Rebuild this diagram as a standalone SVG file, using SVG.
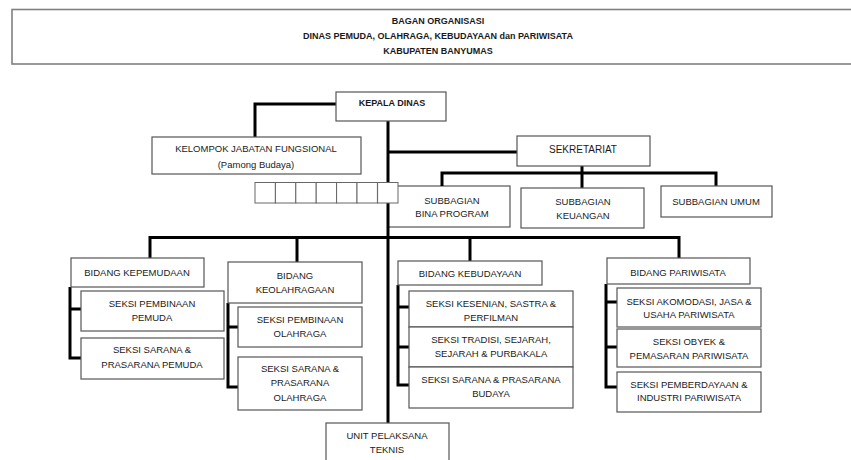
<svg xmlns="http://www.w3.org/2000/svg" width="851" height="460" viewBox="0 0 851 460">
<style>
  .bg{fill:#ffffff}
  .box{fill:#ffffff;stroke:#555555;stroke-width:1.2}
  .sq{fill:#ffffff;stroke:#666666;stroke-width:1}
  .hdr{fill:#ffffff;stroke:#808080;stroke-width:1.6}
  .ln{fill:none;stroke:#000000;stroke-width:3;stroke-linejoin:miter}
  text{font-family:"Liberation Sans",Arial,sans-serif;font-size:9.5px;fill:#1a1a1a;text-anchor:middle}
  .b{font-weight:bold;font-size:9px}
</style>
<rect class="bg" x="0" y="0" width="851" height="460"/>

<g id="header">
  <rect class="hdr" x="12" y="9.5" width="845" height="54.5"/>
  <text class="b" x="438" y="24">BAGAN ORGANISASI</text>
  <text class="b" x="438" y="39">DINAS PEMUDA, OLAHRAGA, KEBUDAYAAN dan PARIWISATA</text>
  <text class="b" x="438" y="54">KABUPATEN BANYUMAS</text>
</g>

<g id="subbagian-bina-program">
  <rect class="box" x="388" y="186" width="122" height="41"/>
  <text x="452" y="203.5">SUBBAGIAN</text>
  <text x="452" y="216.5">BINA PROGRAM</text>
</g>

<g id="connectors">
  <path class="ln" d="M336,104 H255 V137"/>
  <path class="ln" d="M388,121 V423"/>
  <path class="ln" d="M388,152 H517"/>
  <path class="ln" d="M582,166 V188"/>
  <path class="ln" d="M442,186 V173 H716 V186"/>
  <path class="ln" d="M150,258 V237.5 H679 V258"/>
  <path class="ln" d="M297,237.5 V262"/>
  <path class="ln" d="M470,237.5 V261"/>
  <path class="ln" d="M70,287 V358 H81 M70,309 H81"/>
  <path class="ln" d="M228,303 V387 H238 M228,327 H238"/>
  <path class="ln" d="M398,285 V385 H409 M398,307 H409 M398,347 H409"/>
  <path class="ln" d="M606,284 V387 H617 M606,302 H617 M606,347 H617"/>
</g>

<g id="kepala-dinas">
  <rect class="box" x="336" y="92" width="110" height="29"/>
  <text class="b" x="392" y="106">KEPALA DINAS</text>
</g>

<g id="kelompok-jabatan">
  <rect class="box" x="152" y="137" width="209" height="37"/>
  <text x="256" y="151.5">KELOMPOK JABATAN FUNGSIONAL</text>
  <text x="256" y="168">(Pamong Budaya)</text>
</g>

<g id="kotak-kecil">
  <rect class="sq" x="255" y="182.5" width="20.4" height="20.5"/>
  <rect class="sq" x="275.4" y="182.5" width="20.4" height="20.5"/>
  <rect class="sq" x="295.8" y="182.5" width="20.4" height="20.5"/>
  <rect class="sq" x="316.2" y="182.5" width="20.4" height="20.5"/>
  <rect class="sq" x="336.6" y="182.5" width="20.4" height="20.5"/>
  <rect class="sq" x="357" y="182.5" width="20.4" height="20.5"/>
  <rect class="sq" x="377.6" y="182.5" width="20.4" height="20.5"/>
</g>

<g id="sekretariat">
  <rect class="box" x="517" y="136" width="133" height="30"/>
  <text x="583" y="153" style="font-size:10px">SEKRETARIAT</text>
</g>

<g id="subbagian-keuangan">
  <rect class="box" x="521" y="188" width="123" height="40"/>
  <text x="583" y="205">SUBBAGIAN</text>
  <text x="583" y="218.5">KEUANGAN</text>
</g>

<g id="subbagian-umum">
  <rect class="box" x="661" y="186" width="111" height="31"/>
  <text x="716" y="205">SUBBAGIAN UMUM</text>
</g>

<g id="bidang-kepemudaan">
  <rect class="box" x="71" y="258" width="133" height="29"/>
  <text x="137" y="275.5">BIDANG KEPEMUDAAN</text>
</g>
<g id="seksi-pembinaan-pemuda">
  <rect class="box" x="81" y="291" width="143" height="40"/>
  <text x="152" y="306.5">SEKSI PEMBINAAN</text>
  <text x="152" y="320.5">PEMUDA</text>
</g>
<g id="seksi-sarana-pemuda">
  <rect class="box" x="81" y="338" width="143" height="41"/>
  <text x="152" y="352.5">SEKSI SARANA &amp;</text>
  <text x="152" y="368">PRASARANA PEMUDA</text>
</g>

<g id="bidang-keolahragaan">
  <rect class="box" x="228" y="262" width="134" height="41"/>
  <text x="295" y="278.5">BIDANG</text>
  <text x="295" y="292.5">KEOLAHRAGAAN</text>
</g>
<g id="seksi-pembinaan-olahraga">
  <rect class="box" x="238" y="307" width="124" height="40"/>
  <text x="300" y="322.5">SEKSI PEMBINAAN</text>
  <text x="300" y="336.5">OLAHRAGA</text>
</g>
<g id="seksi-sarana-olahraga">
  <rect class="box" x="238" y="357" width="124" height="53"/>
  <text x="300" y="371.5">SEKSI SARANA &amp;</text>
  <text x="300" y="386">PRASARANA</text>
  <text x="300" y="400.5">OLAHRAGA</text>
</g>

<g id="bidang-kebudayaan">
  <rect class="box" x="398" y="261" width="144" height="24"/>
  <text x="470" y="276.5">BIDANG KEBUDAYAAN</text>
</g>
<g id="seksi-kesenian">
  <rect class="box" x="409" y="291" width="164" height="36"/>
  <text x="491" y="306.5">SEKSI KESENIAN, SASTRA &amp;</text>
  <text x="491" y="320.5">PERFILMAN</text>
</g>
<g id="seksi-tradisi">
  <rect class="box" x="409" y="327" width="164" height="40"/>
  <text x="491" y="342.5">SEKSI TRADISI, SEJARAH,</text>
  <text x="491" y="356.5">SEJARAH &amp; PURBAKALA</text>
</g>
<g id="seksi-sarana-budaya">
  <rect class="box" x="409" y="367" width="164" height="41"/>
  <text x="491" y="382.5">SEKSI SARANA &amp; PRASARANA</text>
  <text x="491" y="396.5">BUDAYA</text>
</g>

<g id="unit-pelaksana-teknis">
  <rect class="box" x="326" y="423" width="123" height="45"/>
  <text x="387" y="438.5">UNIT PELAKSANA</text>
  <text x="387" y="453">TEKNIS</text>
</g>

<g id="bidang-pariwisata">
  <rect class="box" x="607" y="258" width="143" height="26"/>
  <text x="678" y="275.5">BIDANG PARIWISATA</text>
</g>
<g id="seksi-akomodasi">
  <rect class="box" x="617" y="288" width="144" height="39"/>
  <text x="689" y="304.5">SEKSI AKOMODASI, JASA &amp;</text>
  <text x="689" y="317.5">USAHA PARIWISATA</text>
</g>
<g id="seksi-obyek">
  <rect class="box" x="617" y="329" width="144" height="38"/>
  <text x="689" y="344.5">SEKSI OBYEK &amp;</text>
  <text x="689" y="358.5">PEMASARAN PARIWISATA</text>
</g>
<g id="seksi-pemberdayaan">
  <rect class="box" x="617" y="372" width="144" height="40"/>
  <text x="689" y="387.5">SEKSI PEMBERDAYAAN &amp;</text>
  <text x="689" y="400.5">INDUSTRI PARIWISATA</text>
</g>
</svg>
